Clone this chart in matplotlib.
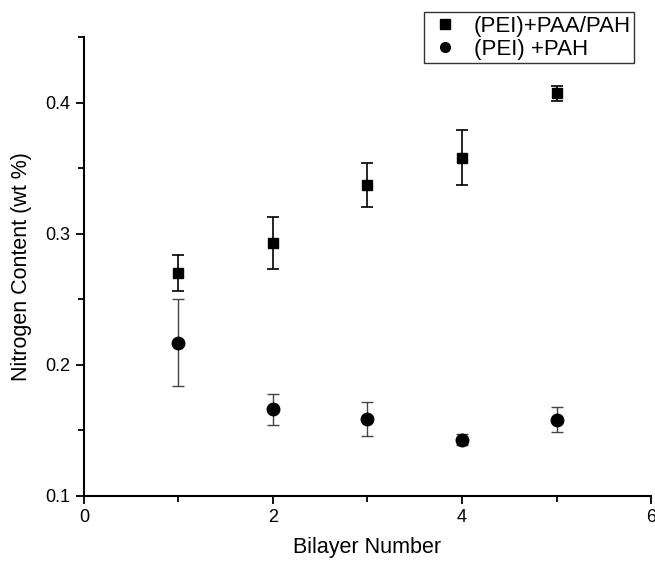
import numpy as np
import matplotlib.pyplot as plt
from matplotlib.ticker import MultipleLocator

plt.rcParams['font.family'] = ['Liberation Sans', 'DejaVu Sans']

# bilayer number
bilayers = [1, 2, 3, 4, 5]

# (PEI)+PAA/PAH
paa_pah = [0.270, 0.293, 0.337, 0.358, 0.407]
paa_pah_err = [0.0135, 0.020, 0.017, 0.021, 0.006]

# (PEI) +PAH
pah = [0.217, 0.166, 0.159, 0.143, 0.158]
pah_err = [0.033, 0.012, 0.013, 0.004, 0.0095]

fig = plt.figure(figsize=(6.55, 5.61), dpi=100)
ax = fig.add_axes([0.128, 0.116, 0.866, 0.818])

ax.errorbar(bilayers, paa_pah, yerr=paa_pah_err, fmt='s', color='black',
            markersize=7, ecolor='black', elinewidth=1.2, capsize=4,
            capthick=1.2, label='(PEI)+PAA/PAH')
ax.errorbar(bilayers, pah, yerr=pah_err, fmt='o', color='black',
            markersize=9, ecolor='#444444', elinewidth=1.0, capsize=4,
            capthick=1.0, label='(PEI) +PAH')

ax.set_xlim(0, 6)
ax.set_ylim(0.1, 0.45)
ax.xaxis.set_major_locator(MultipleLocator(2))
ax.xaxis.set_minor_locator(MultipleLocator(1))
ax.yaxis.set_major_locator(MultipleLocator(0.1))
ax.yaxis.set_minor_locator(MultipleLocator(0.05))
ax.set_yticks([0.1, 0.2, 0.3, 0.4])
ax.set_yticklabels(['0.1', '0.2', '0.3', '0.4'])

for s in ['top', 'right']:
    ax.spines[s].set_visible(False)
for s in ['left', 'bottom']:
    ax.spines[s].set_linewidth(1.5)

ax.tick_params(which='major', direction='out', length=6, width=1.3, labelsize=13)
ax.tick_params(which='minor', direction='out', length=4, width=1.3)

ax.set_xlabel('Bilayer Number', fontsize=15.5, labelpad=8)
ax.set_ylabel('Nitrogen Content (wt %)', fontsize=15.5, labelpad=10)

handles, labels = ax.get_legend_handles_labels()
handles = [h[0] for h in handles]
leg = ax.legend(handles, labels, loc='upper right', bbox_to_anchor=(0.97, 1.054),
                fontsize=16, frameon=True, fancybox=False, edgecolor='black',
                borderpad=0.15, handletextpad=0.5, labelspacing=0.1,
                handlelength=1.6, borderaxespad=0)
leg.get_frame().set_linewidth(1.0)
for h in leg.legend_handles:
    h.set_markersize(7)

fig.savefig('out.png', dpi=100)
